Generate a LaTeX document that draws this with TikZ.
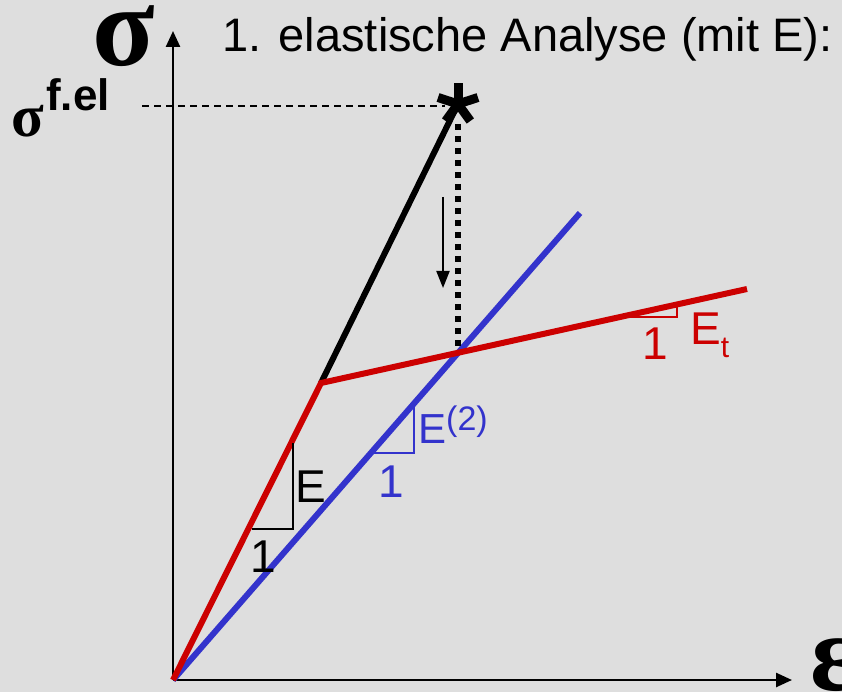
\documentclass[tikz,border=0pt]{standalone}
\usepackage{fontspec}
\setmainfont{Liberation Sans}
\newfontfamily\grk{Liberation Serif}
\usetikzlibrary{arrows.meta}
\definecolor{bg}{HTML}{DEDEDE}
\definecolor{myred}{HTML}{CC0000}
\definecolor{myblue}{HTML}{3333CC}
\begin{document}
\begin{tikzpicture}[x=1pt,y=-1pt,
  axis/.style={line width=2.5pt,-{Triangle[length=16pt,width=14pt]}},
  curve/.style={line width=6pt,line join=miter},
  slopetri/.style={line width=1.4pt},
  lbl/.style={anchor=base west,inner sep=0pt,font=\fontsize{46}{46}\selectfont},
  greek/.style={inner sep=0pt,font=\grk\bfseries\fontsize{#1}{#1}\selectfont},
  stararm/.style={line width=9pt}]
\fill[bg] (0,0) rectangle (842,692);
\useasboundingbox (0,0) rectangle (842,692);
% key points
\coordinate (O) at (173,680);
\coordinate (Ytip) at (173,31);
\coordinate (Xtip) at (792,680);
\coordinate (K) at (321,383);
\coordinate (R) at (747,289);
\coordinate (B) at (580,213);
\coordinate (S) at (458,104);
\coordinate (I) at (458,350);
\coordinate (Dtop) at (458,124);
\coordinate (Dl) at (142,106);
\coordinate (Dr) at (445,106);
\coordinate (Atop) at (443,197);
\coordinate (Abot) at (443,288);
% axes
\draw[axis] (O) -- (Ytip);
\draw[axis] (O) -- (Xtip);
% dashed level line
\draw[line width=1.5pt,dash pattern=on 7pt off 5pt] (Dl) -- (Dr);
% black elastic line
\draw[curve,black] (K) -- (S);
% blue and red lines
\draw[curve,myblue] (O) -- (B);
\draw[curve,myred] (O) -- (K) -- (R);
% dotted vertical
\draw[line width=6pt,dash pattern=on 6pt off 6pt] (Dtop) -- (I);
% arrow down
\draw[line width=2pt,-{Triangle[length=17pt,width=13pt]}] (Atop) -- (Abot);
% star
\foreach \a in {90,18,162,-54,-126} \draw[stararm] (S) -- ++(\a:-21) ;
% slope triangles
\draw[slopetri,black] (252,529) -- (293,529) -- (293,443);
\draw[slopetri,myblue] (368,453) -- (414,453) -- (414,403);
\draw[slopetri,myred] (628,317) -- (677,317) -- (677,307);
% labels
\node[greek=115] (sig) at (124,36) {σ};
\node[greek=60] (sigf) at (27.5,121) {σ};
\node[anchor=base west,inner sep=0pt,font=\bfseries\fontsize{44}{44}\selectfont] (fel) at (46,111) {f.el};
\node[anchor=north west,greek=110] (eps) at (810,638) {ε};
\node[anchor=base west,inner sep=0pt,font=\fontsize{47}{47}\selectfont] (title) at (222,52) {1. elastische Analyse (mit E):};
\node[lbl] (E1) at (295,502) {E};
\node[lbl] (one1) at (250,572) {1};
\node[lbl,text=myblue,font=\fontsize{42}{42}\selectfont] (E2) at (418,443) {E\raisebox{13pt}{\fontsize{34}{34}\selectfont(2)}};
\node[lbl,text=myblue] (one2) at (378,497) {1};
\node[lbl,text=myred] (one3) at (642,359) {1};
\node[lbl,text=myred] (Et) at (690,344) {E\raisebox{-13pt}{\fontsize{30}{30}\selectfont t}};
\end{tikzpicture}
\end{document}
